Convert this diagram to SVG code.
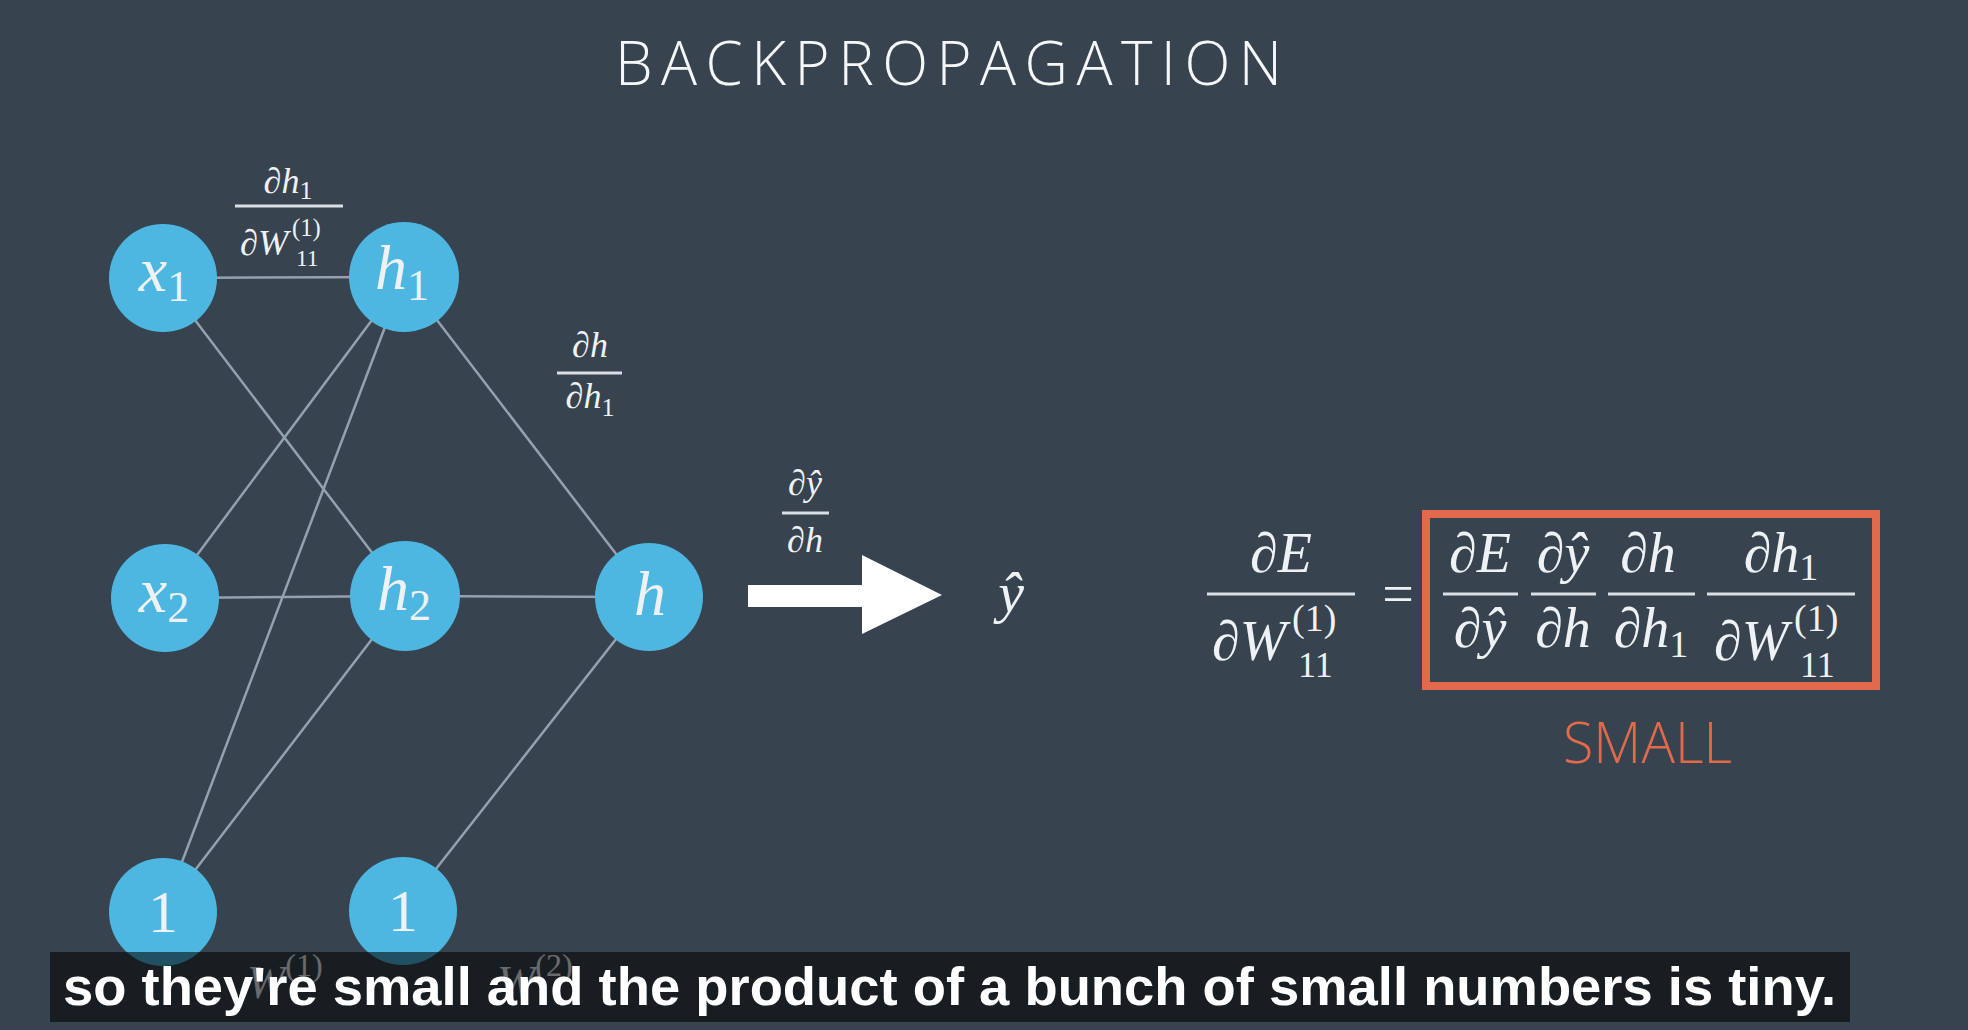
<svg xmlns="http://www.w3.org/2000/svg" xmlns:xlink="http://www.w3.org/1999/xlink" width="1968" height="1030" viewBox="0 0 1968 1030">
<style>
.bg{fill:#37434f}
.node{fill:#4db7e2}
.edge{stroke:#93a2af;stroke-width:2.5;fill:none}
.m{font-family:"Liberation Serif","DejaVu Serif",serif;fill:#eef2f5}
.i{font-style:italic}
.u{font-style:normal}
.bar{stroke:#d9dfe4;stroke-width:3}
.title{font-family:"Open Sans","Liberation Sans",sans-serif;font-weight:300;font-size:60px;fill:#f5f7f9}
.small{font-family:"Open Sans","Liberation Sans",sans-serif;font-weight:300;font-size:57px;fill:#e2694b}
.sub{font-family:"Liberation Sans","Arial",sans-serif;font-weight:bold;font-size:54px;fill:#ffffff}
</style>
<defs>
<g id="dW">
<text class="m i" x="0" y="0" font-size="56">∂W</text>
<text class="m u" x="80" y="-29" font-size="38">(1)</text>
<text class="m u" x="86" y="17" font-size="36">11</text>
</g>
</defs>
<rect class="bg" x="0" y="0" width="1968" height="1030"/>

<text class="title" x="615" y="85" textLength="667" lengthAdjust="spacing">BACKPROPAGATION</text>

<g id="connectors">
<line class="edge" x1="163" y1="278" x2="404" y2="277"/>
<line class="edge" x1="163" y1="278" x2="405" y2="596"/>
<line class="edge" x1="165" y1="598" x2="404" y2="277"/>
<line class="edge" x1="165" y1="598" x2="405" y2="596"/>
<line class="edge" x1="163" y1="912" x2="404" y2="277"/>
<line class="edge" x1="163" y1="912" x2="405" y2="596"/>
<line class="edge" x1="404" y1="277" x2="649" y2="597"/>
<line class="edge" x1="405" y1="596" x2="649" y2="597"/>
<line class="edge" x1="403" y1="911" x2="649" y2="597"/>
</g>

<g id="node-x1">
<circle class="node" cx="163" cy="278" r="54"/>
<text class="m" x="164" y="291" text-anchor="middle"><tspan class="i" font-size="64">x</tspan><tspan class="u" font-size="44" dy="10">1</tspan></text>
</g>
<g id="node-h1">
<circle class="node" cx="404" cy="277" r="55"/>
<text class="m" x="402" y="289" text-anchor="middle"><tspan class="i" font-size="64">h</tspan><tspan class="u" font-size="44" dy="11">1</tspan></text>
</g>
<g id="node-x2">
<circle class="node" cx="165" cy="598" r="54"/>
<text class="m" x="164" y="612" text-anchor="middle"><tspan class="i" font-size="64">x</tspan><tspan class="u" font-size="44" dy="10">2</tspan></text>
</g>
<g id="node-h2">
<circle class="node" cx="405" cy="596" r="55"/>
<text class="m" x="404" y="610" text-anchor="middle"><tspan class="i" font-size="64">h</tspan><tspan class="u" font-size="44" dy="10">2</tspan></text>
</g>
<g id="node-h">
<circle class="node" cx="649" cy="597" r="54"/>
<text class="m i" x="650" y="615" text-anchor="middle" font-size="64">h</text>
</g>
<g id="node-b1">
<circle class="node" cx="163" cy="912" r="54"/>
<text class="m u" x="163" y="932" text-anchor="middle" font-size="60">1</text>
</g>
<g id="node-b2">
<circle class="node" cx="403" cy="911" r="54"/>
<text class="m u" x="403" y="931" text-anchor="middle" font-size="60">1</text>
</g>

<g id="label-dh1-dW">
<text class="m" x="288" y="193" text-anchor="middle"><tspan class="i" font-size="36">∂h</tspan><tspan class="u" font-size="26" dy="6">1</tspan></text>
<line class="bar" x1="235" y1="206" x2="343" y2="206" stroke-width="2.5"/>
<use xlink:href="#dW" href="#dW" transform="translate(240,255) scale(0.65)"/>
</g>
<g id="label-dh-dh1">
<text class="m i" x="590" y="357" text-anchor="middle" font-size="36">∂h</text>
<line class="bar" x1="557" y1="373" x2="622" y2="373" stroke-width="2.5"/>
<text class="m" x="590" y="408" text-anchor="middle"><tspan class="i" font-size="36">∂h</tspan><tspan class="u" font-size="26" dy="8">1</tspan></text>
</g>
<g id="label-dy-dh">
<text class="m i" x="805" y="495" text-anchor="middle" font-size="36">∂ŷ</text>
<line class="bar" x1="782" y1="513" x2="829" y2="513" stroke-width="2.5"/>
<text class="m i" x="805" y="552" text-anchor="middle" font-size="36">∂h</text>
</g>

<g id="arrow">
<polygon points="748,585 862,585 862,555 942,595 862,634 862,607 748,607" fill="#ffffff"/>
</g>
<g id="node-yhat">
<text class="m i" x="1011" y="612" text-anchor="middle" font-size="58">ŷ</text>
</g>

<g id="equation">
<text class="m i" x="1281" y="572" text-anchor="middle" font-size="56">∂E</text>
<line class="bar" x1="1207" y1="594" x2="1355" y2="594"/>
<use xlink:href="#dW" href="#dW" x="1212" y="660"/>
<text class="m u" x="1398" y="613" text-anchor="middle" font-size="56">=</text>

<rect x="1426" y="514" width="450" height="172" fill="none" stroke="#e2694b" stroke-width="8"/>

<text class="m i" x="1480" y="572" text-anchor="middle" font-size="56">∂E</text>
<line class="bar" x1="1443" y1="594" x2="1518" y2="594"/>
<text class="m i" x="1480" y="647" text-anchor="middle" font-size="56">∂ŷ</text>

<text class="m i" x="1563" y="572" text-anchor="middle" font-size="56">∂ŷ</text>
<line class="bar" x1="1531" y1="594" x2="1596" y2="594"/>
<text class="m i" x="1563" y="647" text-anchor="middle" font-size="56">∂h</text>

<text class="m i" x="1648" y="572" text-anchor="middle" font-size="56">∂h</text>
<line class="bar" x1="1608" y1="594" x2="1695" y2="594"/>
<text class="m" x="1651" y="647" text-anchor="middle"><tspan class="i" font-size="56">∂h</tspan><tspan class="u" font-size="38" dy="10">1</tspan></text>

<text class="m" x="1781" y="572" text-anchor="middle"><tspan class="i" font-size="56">∂h</tspan><tspan class="u" font-size="38" dy="8">1</tspan></text>
<line class="bar" x1="1707" y1="594" x2="1855" y2="594"/>
<use xlink:href="#dW" href="#dW" x="1714" y="660"/>

<text class="small" x="1563" y="763" textLength="169" lengthAdjust="spacingAndGlyphs">SMALL</text>
</g>

<g id="hidden-labels">
<text class="m" x="247" y="998" fill="#c8d0d6"><tspan class="i" font-size="46">W</tspan><tspan class="u" font-size="32" dy="-22">(1)</tspan></text>
<text class="m" x="497" y="998" fill="#c8d0d6"><tspan class="i" font-size="46">W</tspan><tspan class="u" font-size="32" dy="-22">(2)</tspan></text>
</g>

<g id="subtitle">
<rect x="50" y="952" width="1800" height="70" fill="#000000" fill-opacity="0.56"/>
<text class="sub" x="63" y="1005" textLength="1773" lengthAdjust="spacingAndGlyphs">so they're small and the product of a bunch of small numbers is tiny.</text>
</g>
</svg>
